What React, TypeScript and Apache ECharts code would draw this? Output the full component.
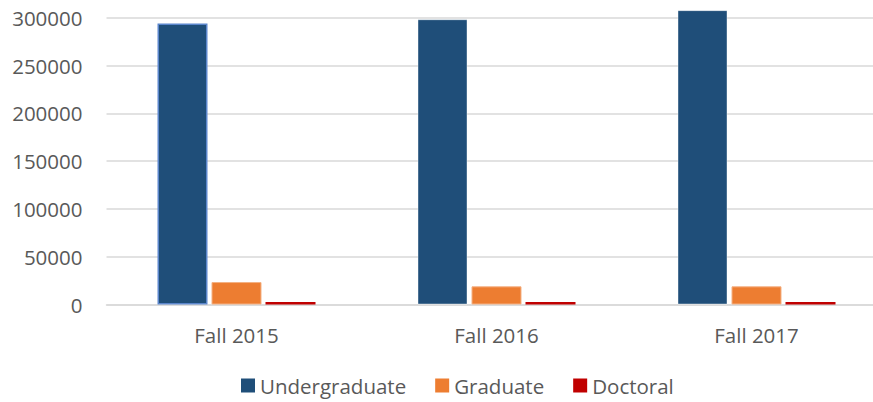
import React, { useEffect, useRef } from "react";
import * as echarts from "echarts";

const categories = ["Fall 2015", "Fall 2016", "Fall 2017"];
const undergraduate = [294000, 298500, 308000];
const graduate = [23500, 19000, 19000];
const doctoral = [2500, 2500, 2500];
const seriesNames = ["Undergraduate", "Graduate", "Doctoral"];
const colors = ["#1F4E79", "#ED7D31", "#C00000"];

export default function App() {
  const ref = useRef<HTMLDivElement>(null);
  useEffect(() => {
    if (!ref.current) return;
    const chart = echarts.init(ref.current, null, { renderer: "svg" });
    const font = "'Open Sans', sans-serif";
    const textColor = "#595959";
    const mk = (name: string, data: number[], color: string, border: string, bw: number) => ({
      name,
      type: "bar",
      data: data.map((v, i) =>
        name === "Undergraduate" && i === 0
          ? { value: v, itemStyle: { borderColor: "#5B86CC", borderWidth: 1.5 } }
          : v
      ),
      barWidth: 50,
      barGap: "8%",
      clip: false,
      itemStyle: { color, borderColor: border, borderWidth: bw },
    });
    chart.setOption({
      animation: false,
      color: colors,
      grid: {
        left: 106.5,
        right: -13.5,
        top: 17.8,
        bottom: 97.5,
        containLabel: false,
        outerBoundsMode: "none",
      },
      legend: {
        bottom: 1,
        left: 236,
        itemWidth: 14,
        itemHeight: 14,
        itemGap: 29,
        icon: "rect",
        itemStyle: { borderWidth: 0 },
        textStyle: { color: textColor, fontSize: 20.5, fontFamily: font },
        data: seriesNames,
      },
      xAxis: {
        type: "category",
        data: categories,
        axisLine: { lineStyle: { color: "#D9D9D9", width: 1.5 } },
        axisTick: { show: false },
        axisLabel: { color: textColor, fontSize: 20.5, fontFamily: font, margin: 20 },
      },
      yAxis: {
        type: "value",
        min: 0,
        max: 300000,
        interval: 50000,
        axisLine: { show: false },
        axisTick: { show: false },
        splitLine: { lineStyle: { color: "#D9D9D9", width: 1.5 } },
        axisLabel: {
          color: textColor,
          fontSize: 20.5,
          fontFamily: font,
          margin: 24,
          formatter: (v: number) => String(v),
        },
      },
      series: [
        mk(seriesNames[0], undergraduate, colors[0], "rgba(255,255,255,0.4)", 1),
        mk(seriesNames[1], graduate, colors[1], "#F4B183", 1),
        mk(seriesNames[2], doctoral, colors[2], "#C00000", 0),
      ],
    });
    return () => chart.dispose();
  }, []);
  return <div ref={ref} style={{ width: 873, height: 402, position: "absolute", left: 0, top: 0 }} />;
}
